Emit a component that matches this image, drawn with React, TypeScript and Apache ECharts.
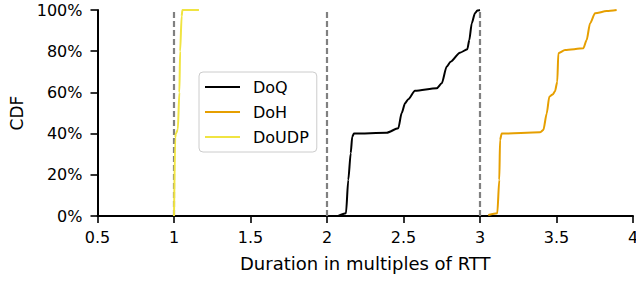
import React, { useEffect, useRef } from "react";
import * as echarts from "echarts";

const seriesNames = ["DoQ", "DoH", "DoUDP"];
const seriesColors = ["#000000", "#E69F00", "#F0E442"];

// [duration in RTT multiples, cumulative fraction]
const doqPoints: [number, number][] = [
  [2.074, 0], [2.124, 0.013], [2.139, 0.175], [2.155, 0.305], [2.165, 0.385],
  [2.176, 0.4], [2.39, 0.404], [2.466, 0.426], [2.488, 0.5], [2.51, 0.547],
  [2.531, 0.567], [2.575, 0.608], [2.717, 0.62], [2.75, 0.644], [2.782, 0.725],
  [2.808, 0.749], [2.869, 0.793], [2.917, 0.809], [2.93, 0.854], [2.946, 0.935],
  [2.967, 0.984], [2.982, 0.997], [3.0, 1.0],
];
const dohPoints: [number, number][] = [
  [3.054, 0.005], [3.113, 0.013], [3.126, 0.175], [3.131, 0.369], [3.142, 0.4],
  [3.392, 0.406], [3.414, 0.417], [3.436, 0.498], [3.453, 0.579], [3.475, 0.59],
  [3.49, 0.605], [3.505, 0.652], [3.512, 0.79], [3.556, 0.806], [3.675, 0.814],
  [3.697, 0.854], [3.719, 0.935], [3.752, 0.984], [3.828, 0.995], [3.893, 1.0],
];
const doudpPoints: [number, number][] = [
  [1.0, 0], [1.008, 0.38], [1.012, 0.4], [1.025, 0.42], [1.035, 0.6],
  [1.04, 0.8], [1.05, 0.97], [1.055, 1.0], [1.163, 1.0],
];
const referenceLines = [1, 2, 3];

const xTicks = { min: 0.5, max: 4, interval: 0.5 };
const yTicks = { min: 0, max: 1, interval: 0.2 };

const FONT = "DejaVu Sans";

export default function App() {
  const ref = useRef<HTMLDivElement>(null);
  useEffect(() => {
    if (!ref.current) return;
    document.body.style.margin = "0";
    const chart = echarts.init(ref.current, undefined, { renderer: "svg" });
    const dataSets = [doqPoints, dohPoints, doudpPoints];
    chart.setOption({
      animation: false,
      textStyle: { fontFamily: FONT },
      grid: {
        left: 97.5,
        right: 3,
        top: 10,
        bottom: 66,
        containLabel: false,
        outerBoundsMode: "none",
      },
      legend: {
        orient: "vertical",
        left: 199,
        top: 72,
        data: seriesNames,
        icon: "rect",
        itemWidth: 35,
        itemHeight: 2,
        itemGap: 9,
        padding: [7, 8, 7, 6],
        borderColor: "#cccccc",
        borderWidth: 1,
        borderRadius: 4,
        backgroundColor: "rgba(255,255,255,0.8)",
        textStyle: {
          fontFamily: FONT,
          fontSize: 16,
          lineHeight: 16,
          color: "#000",
          padding: [0, 0, 0, 8],
        },
      },
      xAxis: {
        type: "value",
        min: xTicks.min,
        max: xTicks.max,
        interval: xTicks.interval,
        name: "Duration in multiples of RTT",
        nameLocation: "middle",
        nameGap: 38,
        nameTextStyle: { fontFamily: FONT, fontSize: 18, color: "#000" },
        axisLine: { show: true, lineStyle: { color: "#000", width: 2 } },
        axisTick: { show: true, length: 7, lineStyle: { color: "#000", width: 1.6 } },
        axisLabel: {
          fontFamily: FONT,
          fontSize: 16,
          color: "#000",
          margin: 13,
          formatter: (v: number) => String(v),
        },
        splitLine: { show: false },
      },
      yAxis: {
        type: "value",
        min: yTicks.min,
        max: yTicks.max,
        interval: yTicks.interval,
        name: "CDF",
        nameLocation: "middle",
        nameRotate: 90,
        nameGap: 72,
        nameTextStyle: { fontFamily: FONT, fontSize: 17, color: "#000" },
        axisLine: { show: true, lineStyle: { color: "#000", width: 2 } },
        axisTick: { show: true, length: 7, lineStyle: { color: "#000", width: 1.6 } },
        axisLabel: {
          fontFamily: FONT,
          fontSize: 16,
          color: "#000",
          margin: 15,
          formatter: (v: number) => Math.round(v * 100) + "%",
        },
        splitLine: { show: false },
      },
      series: seriesNames.map((name, i) => ({
        name,
        type: "line",
        data: dataSets[i],
        showSymbol: false,
        smooth: 0.25,
        smoothMonotone: "x",
        lineStyle: { color: seriesColors[i], width: 2 },
        itemStyle: { color: seriesColors[i] },
        z: 3,
        markLine:
          i === 0
            ? {
                silent: true,
                symbol: ["none", "none"],
                label: { show: false },
                lineStyle: { color: "#808080", type: [6, 3], width: 2.2 },
                data: referenceLines.map((x) => ({ xAxis: x })),
                z: 1,
              }
            : undefined,
      })),
    });
    return () => chart.dispose();
  }, []);
  return <div ref={ref} style={{ width: 636, height: 282 }} />;
}
